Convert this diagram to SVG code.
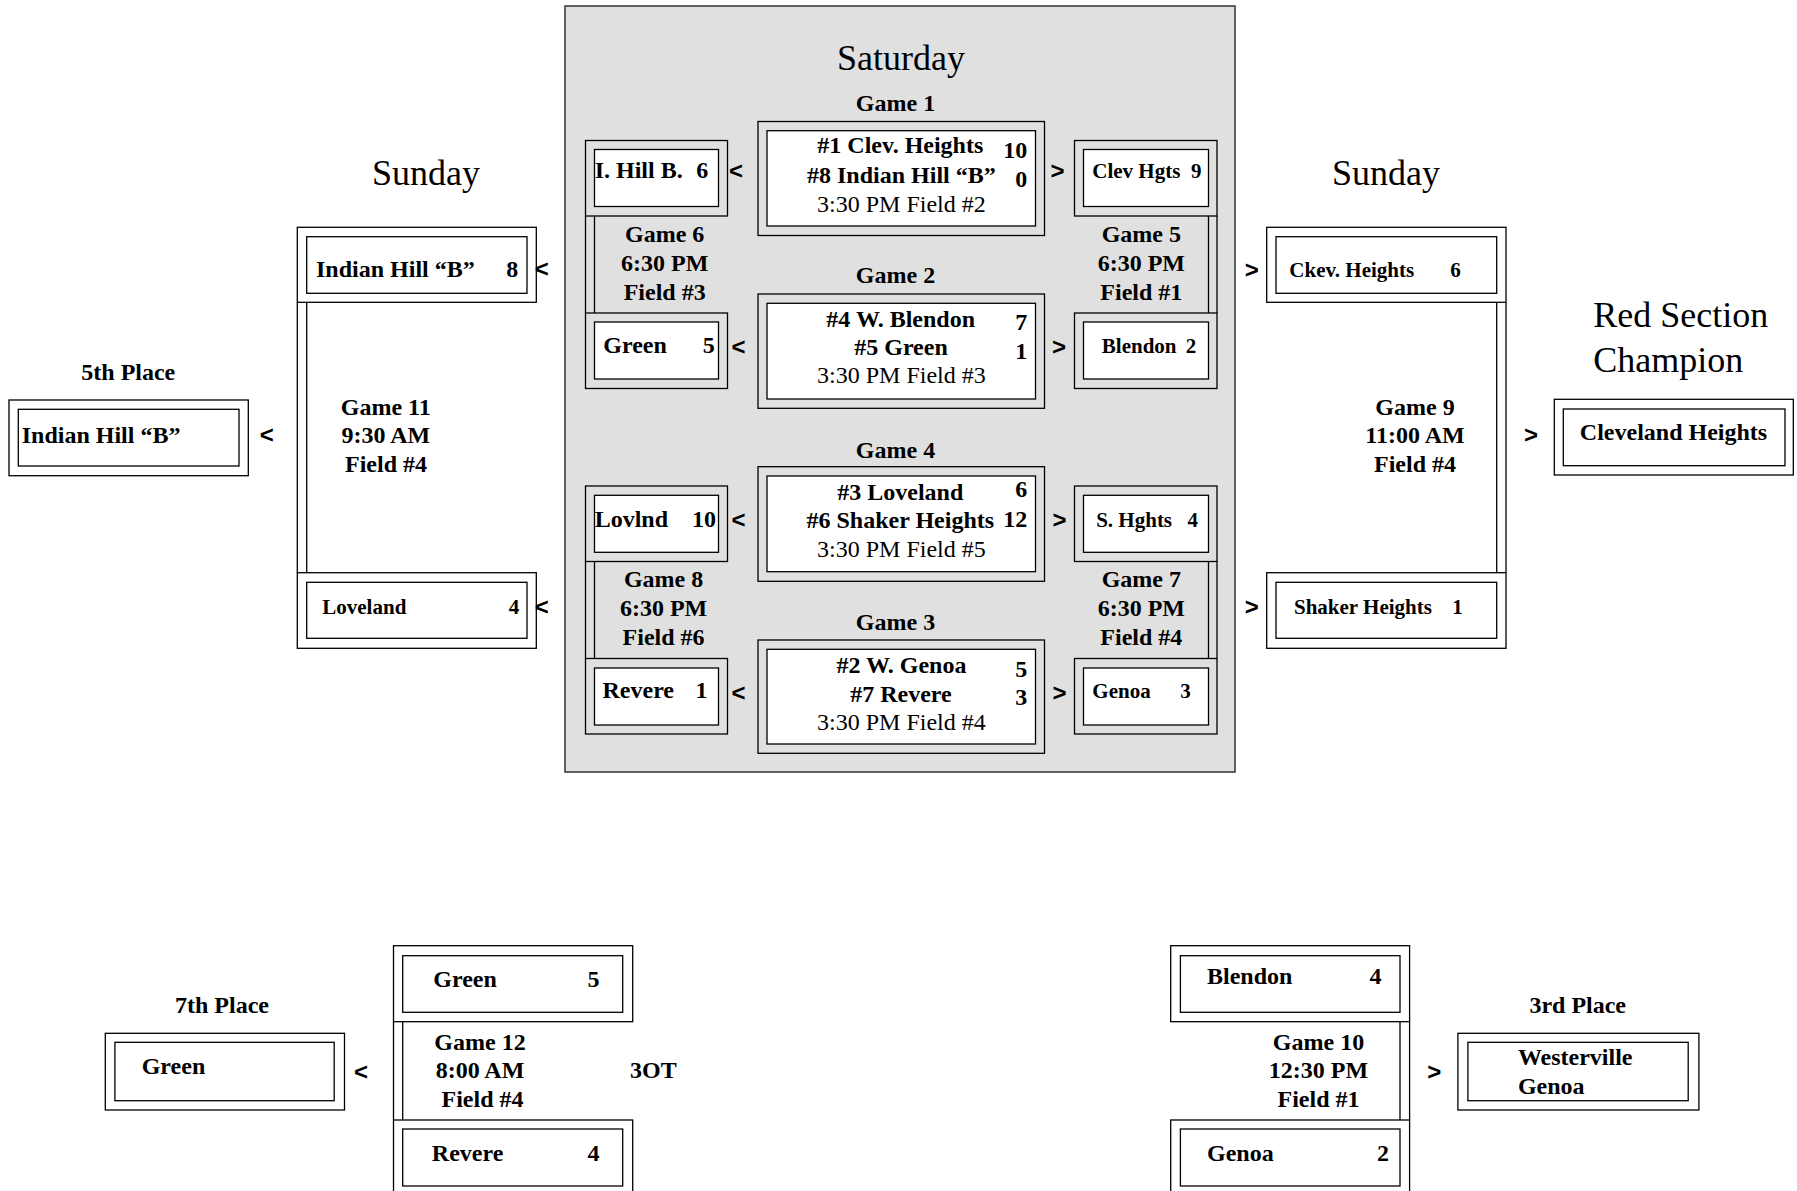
<svg xmlns="http://www.w3.org/2000/svg" width="1797" height="1191" viewBox="0 0 1797 1191">
<style>
.o{fill:none;stroke:#000;stroke-width:1.3}
.i{fill:#fff;stroke:#000;stroke-width:1.3}
.ln{stroke:#000;stroke-width:1.3;fill:none}
text{font-family:"Liberation Serif","Times New Roman",serif;fill:#000}
.b{font-weight:bold;font-size:24px}
.s{font-weight:bold;font-size:21px}
.r{font-size:24px}
.h{font-size:36px}
.m{text-anchor:middle}
.e{text-anchor:end}
.a{font-family:"Liberation Sans",Arial,sans-serif;font-weight:bold;font-size:24px;text-anchor:middle}
</style>
<rect x="0" y="0" width="1797" height="1191" fill="#fff"/>

<g id="saturday-panel">
<rect x="565" y="6" width="670" height="766" fill="#e0e0e0" stroke="#333" stroke-width="1.5"/>
<text class="h m" x="901" y="70">Saturday</text>
</g>

<g id="connectors">
<line class="ln" x1="585.5" y1="216" x2="585.5" y2="313"/>
<line class="ln" x1="594.5" y1="216" x2="594.5" y2="313"/>
<line class="ln" x1="585.5" y1="561.5" x2="585.5" y2="658.5"/>
<line class="ln" x1="594.5" y1="561.5" x2="594.5" y2="658.5"/>
<line class="ln" x1="1208.5" y1="216" x2="1208.5" y2="313"/>
<line class="ln" x1="1217" y1="216" x2="1217" y2="313"/>
<line class="ln" x1="1208.5" y1="561.5" x2="1208.5" y2="658.5"/>
<line class="ln" x1="1217" y1="561.5" x2="1217" y2="658.5"/>
<line class="ln" x1="297.3" y1="302.3" x2="297.3" y2="572.7"/>
<line class="ln" x1="306.7" y1="302.3" x2="306.7" y2="572.7"/>
<line class="ln" x1="1496.7" y1="302.3" x2="1496.7" y2="572.7"/>
<line class="ln" x1="1506" y1="302.3" x2="1506" y2="572.7"/>
<line class="ln" x1="393.5" y1="1021.7" x2="393.5" y2="1120"/>
<line class="ln" x1="402.7" y1="1021.7" x2="402.7" y2="1120"/>
<line class="ln" x1="1400" y1="1021.7" x2="1400" y2="1120"/>
<line class="ln" x1="1409.6" y1="1021.7" x2="1409.6" y2="1120"/>
<text class="a" x="736" y="179">&lt;</text>
<text class="a" x="738.5" y="355">&lt;</text>
<text class="a" x="738.5" y="527.5">&lt;</text>
<text class="a" x="738.5" y="701">&lt;</text>
<text class="a" x="1057.5" y="179">&gt;</text>
<text class="a" x="1059" y="355">&gt;</text>
<text class="a" x="1059.5" y="527.5">&gt;</text>
<text class="a" x="1059.5" y="701">&gt;</text>
<text class="a" x="541.7" y="276.5">&lt;</text>
<text class="a" x="541.7" y="615">&lt;</text>
<text class="a" x="266.7" y="443">&lt;</text>
<text class="a" x="1251.7" y="278">&gt;</text>
<text class="a" x="1251.7" y="615">&gt;</text>
<text class="a" x="1531" y="443">&gt;</text>
<text class="a" x="361" y="1079.7">&lt;</text>
<text class="a" x="1434.3" y="1079.7">&gt;</text>
</g>

<g id="game1">
<text class="b m" x="895.5" y="111">Game 1</text>
<rect class="o" x="758" y="121.5" width="286.5" height="114"/>
<rect class="i" x="767" y="130.7" width="268.5" height="95.3"/>
<text class="b m" x="900.3" y="153.3">#1 Clev. Heights</text>
<text class="b e" x="1027.3" y="158.3">10</text>
<text class="b m" x="901.4" y="182.7">#8 Indian Hill “B”</text>
<text class="b e" x="1027.3" y="186.7">0</text>
<text class="r m" x="901.4" y="211.7">3:30 PM Field #2</text>
</g>

<g id="game2">
<text class="b m" x="895.5" y="283.3">Game 2</text>
<rect class="o" x="758" y="294" width="286.5" height="114.3"/>
<rect class="i" x="767" y="303.3" width="268.5" height="95.7"/>
<text class="b m" x="900.7" y="326.7">#4 W. Blendon</text>
<text class="b e" x="1027.3" y="330">7</text>
<text class="b m" x="901" y="355">#5 Green</text>
<text class="b e" x="1027.3" y="359.3">1</text>
<text class="r m" x="901.4" y="383.3">3:30 PM Field #3</text>
</g>

<g id="game4">
<text class="b m" x="895.5" y="458.3">Game 4</text>
<rect class="o" x="758" y="466.7" width="286.5" height="114.6"/>
<rect class="i" x="767" y="476" width="268.5" height="95.7"/>
<text class="b m" x="900.3" y="500">#3 Loveland</text>
<text class="b e" x="1027.3" y="497.3">6</text>
<text class="b m" x="900.3" y="528.3">#6 Shaker Heights</text>
<text class="b e" x="1027.3" y="526.7">12</text>
<text class="r m" x="901.4" y="556.7">3:30 PM Field #5</text>
</g>

<g id="game3">
<text class="b m" x="895.5" y="630">Game 3</text>
<rect class="o" x="758" y="640" width="286.5" height="113.3"/>
<rect class="i" x="767" y="649.3" width="268.5" height="94.7"/>
<text class="b m" x="901.4" y="673.3">#2 W. Genoa</text>
<text class="b e" x="1027.3" y="676.7">5</text>
<text class="b m" x="901" y="701.7">#7 Revere</text>
<text class="b e" x="1027.3" y="705">3</text>
<text class="r m" x="901.4" y="730">3:30 PM Field #4</text>
</g>

<g id="ihill-sat">
<rect class="o" x="585.5" y="140.5" width="142" height="75.5"/>
<rect class="i" x="594.5" y="149.5" width="124" height="57"/>
<text class="b" x="594.7" y="178.3">I. Hill B.</text>
<text class="b e" x="708.2" y="178.3">6</text>
</g>
<g id="green-sat">
<rect class="o" x="585.5" y="313" width="142" height="75.5"/>
<rect class="i" x="594.5" y="322" width="124" height="57"/>
<text class="b" x="603.3" y="353.3">Green</text>
<text class="b e" x="714.7" y="353.3">5</text>
</g>
<g id="lovlnd-sat">
<rect class="o" x="585.5" y="486" width="142" height="75.5"/>
<rect class="i" x="594.5" y="495.3" width="124" height="57"/>
<text class="b" x="594.7" y="526.7">Lovlnd</text>
<text class="b e" x="716" y="526.7">10</text>
</g>
<g id="revere-sat">
<rect class="o" x="585.5" y="658.5" width="142" height="75.5"/>
<rect class="i" x="594.5" y="668" width="124" height="57"/>
<text class="b" x="602.5" y="698.3">Revere</text>
<text class="b e" x="707.4" y="698.3">1</text>
</g>

<g id="clev-sat">
<rect class="o" x="1074.5" y="140.5" width="142.5" height="75.5"/>
<rect class="i" x="1083.5" y="149.5" width="125" height="57"/>
<text class="s" x="1092.3" y="178.3">Clev Hgts</text>
<text class="s e" x="1201.5" y="178.3">9</text>
</g>
<g id="blendon-sat">
<rect class="o" x="1074.5" y="313" width="142.5" height="75.5"/>
<rect class="i" x="1083.5" y="322" width="125" height="57"/>
<text class="s" x="1101.8" y="353.3">Blendon</text>
<text class="s e" x="1196.3" y="353.3">2</text>
</g>
<g id="shaker-sat">
<rect class="o" x="1074.5" y="486" width="142.5" height="75.5"/>
<rect class="i" x="1083.5" y="495.3" width="125" height="57"/>
<text class="s" x="1096.2" y="526.7">S. Hghts</text>
<text class="s e" x="1198" y="526.7">4</text>
</g>
<g id="genoa-sat">
<rect class="o" x="1074.5" y="658.5" width="142.5" height="75.5"/>
<rect class="i" x="1083.5" y="668" width="125" height="57"/>
<text class="s" x="1092.3" y="698.3">Genoa</text>
<text class="s e" x="1190.7" y="698.3">3</text>
</g>

<g id="game6-label">
<text class="b m" x="664.7" y="241.7">Game 6</text>
<text class="b m" x="664.7" y="270.7">6:30 PM</text>
<text class="b m" x="664.7" y="299.7">Field #3</text>
</g>
<g id="game5-label">
<text class="b m" x="1141.3" y="241.7">Game 5</text>
<text class="b m" x="1141.3" y="270.7">6:30 PM</text>
<text class="b m" x="1141.3" y="299.7">Field #1</text>
</g>
<g id="game8-label">
<text class="b m" x="663.6" y="587">Game 8</text>
<text class="b m" x="663.6" y="616.3">6:30 PM</text>
<text class="b m" x="663.6" y="645">Field #6</text>
</g>
<g id="game7-label">
<text class="b m" x="1141.3" y="587">Game 7</text>
<text class="b m" x="1141.3" y="616.3">6:30 PM</text>
<text class="b m" x="1141.3" y="645">Field #4</text>
</g>

<g id="sunday-left">
<text class="h m" x="426" y="185">Sunday</text>
<text class="b m" x="385.8" y="415">Game 11</text>
<text class="b m" x="385.8" y="443.3">9:30 AM</text>
<text class="b m" x="386" y="471.7">Field #4</text>
</g>
<g id="ihill-sun">
<rect class="o" x="297.3" y="227.3" width="239" height="75"/>
<rect class="i" x="306.7" y="236.7" width="220.3" height="56.6"/>
<text class="b" x="316" y="276.7">Indian Hill “B”</text>
<text class="b e" x="518.3" y="276.7">8</text>
</g>
<g id="loveland-sun">
<rect class="o" x="297.3" y="572.7" width="239" height="75.6"/>
<rect class="i" x="306.7" y="582.3" width="220.3" height="56"/>
<text class="s" x="322.3" y="614">Loveland</text>
<text class="s e" x="519.3" y="614">4</text>
</g>
<g id="fifth-place">
<text class="b m" x="128.3" y="380">5th Place</text>
<rect class="o" x="9" y="400" width="239.3" height="75.7"/>
<rect class="i" x="18.3" y="409.3" width="220.7" height="56.7"/>
<text class="b" x="21.7" y="443.3">Indian Hill “B”</text>
</g>

<g id="sunday-right">
<text class="h m" x="1386" y="185">Sunday</text>
<text class="b m" x="1415" y="415">Game 9</text>
<text class="b m" x="1415" y="443.3">11:00 AM</text>
<text class="b m" x="1415" y="471.7">Field #4</text>
</g>
<g id="clev-sun">
<rect class="o" x="1266.7" y="227.3" width="239.3" height="75"/>
<rect class="i" x="1276" y="236.7" width="220.7" height="56.6"/>
<text class="s" x="1289.3" y="276.7">Ckev. Heights</text>
<text class="s e" x="1460.7" y="276.7">6</text>
</g>
<g id="shaker-sun">
<rect class="o" x="1266.7" y="572.7" width="239.3" height="75.6"/>
<rect class="i" x="1276" y="582.3" width="220.7" height="56"/>
<text class="s" x="1294" y="614">Shaker Heights</text>
<text class="s e" x="1462.7" y="614">1</text>
</g>
<g id="champion">
<text class="h" x="1593.3" y="326.7">Red Section</text>
<text class="h" x="1593.3" y="371.7">Champion</text>
<rect class="o" x="1554.3" y="399.3" width="239" height="75.7"/>
<rect class="i" x="1563.3" y="409" width="221.7" height="56.7"/>
<text class="b m" x="1673.5" y="440">Cleveland Heights</text>
</g>

<g id="seventh-place">
<text class="b m" x="222" y="1013.3">7th Place</text>
<rect class="o" x="105.3" y="1033.3" width="239.2" height="76.7"/>
<rect class="i" x="114.9" y="1042.3" width="219.3" height="58.4"/>
<text class="b" x="141.7" y="1073.5">Green</text>
</g>
<g id="game12">
<text class="b m" x="480" y="1049.5">Game 12</text>
<text class="b m" x="480" y="1078">8:00 AM</text>
<text class="b m" x="482.5" y="1107">Field #4</text>
<text class="b" x="630" y="1078">3OT</text>
</g>
<g id="green-g12">
<rect class="o" x="393.5" y="945.7" width="239.2" height="76"/>
<rect class="i" x="402.7" y="955.7" width="220" height="56.6"/>
<text class="b" x="433.3" y="987">Green</text>
<text class="b e" x="599.5" y="987">5</text>
</g>
<g id="revere-g12">
<rect class="o" x="393.5" y="1120" width="239.2" height="76"/>
<rect class="i" x="402.7" y="1129" width="220" height="57"/>
<text class="b" x="431.8" y="1161">Revere</text>
<text class="b e" x="599.5" y="1161">4</text>
</g>

<g id="game10">
<text class="b m" x="1318.5" y="1049.5">Game 10</text>
<text class="b m" x="1318.5" y="1078">12:30 PM</text>
<text class="b m" x="1318.5" y="1107">Field #1</text>
</g>
<g id="blendon-g10">
<rect class="o" x="1170.7" y="945.7" width="238.9" height="76"/>
<rect class="i" x="1180.4" y="955.7" width="219.6" height="56.6"/>
<text class="b" x="1207" y="984">Blendon</text>
<text class="b e" x="1381.4" y="984">4</text>
</g>
<g id="genoa-g10">
<rect class="o" x="1170.7" y="1120" width="238.9" height="76"/>
<rect class="i" x="1180.4" y="1129" width="219.6" height="57"/>
<text class="b" x="1207" y="1161">Genoa</text>
<text class="b e" x="1389" y="1161">2</text>
</g>
<g id="third-place">
<text class="b m" x="1577.7" y="1013">3rd Place</text>
<rect class="o" x="1457.9" y="1033.3" width="241" height="76.7"/>
<rect class="i" x="1467.9" y="1042.3" width="220.3" height="58.4"/>
<text class="b" x="1517.9" y="1064.5">Westerville</text>
<text class="b" x="1517.9" y="1094">Genoa</text>
</g>
</svg>
